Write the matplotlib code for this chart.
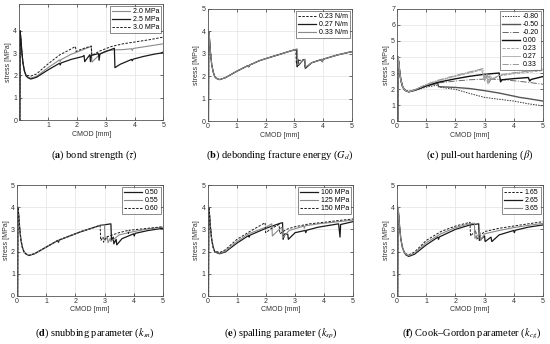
import matplotlib
matplotlib.use("Agg")
import matplotlib.pyplot as plt
import numpy as np

plt.rcParams["font.family"] = ["Liberation Sans", "DejaVu Sans"]
plt.rcParams["mathtext.fontset"] = "stix"

# shared softening branch (0 -> peak 4 MPa -> near minimum)
SOFT_X = [0.0, 0.02, 0.03, 0.06, 0.09, 0.13, 0.18, 0.24]
SOFT_Y = [0.0, 0.0, 4.0, 3.6, 3.05, 2.55, 2.2, 1.98]

# (a) bond strength
A_LABELS = ["2.0 MPa", "2.5 MPa", "3.0 MPa"]
A20_X = [0.3, 0.4, 0.6, 1.0, 1.4, 1.42, 1.45, 1.8, 2.2, 2.45, 2.5, 2.52, 2.8, 3.0, 3.3, 3.6, 3.9, 3.92, 3.95, 4.5, 5.0]
A20_Y = [1.93, 1.88, 1.96, 2.35, 2.7, 2.62, 2.71, 2.95, 3.15, 3.28, 3.3, 2.6, 2.95, 3.1, 3.15, 3.16, 3.2, 3.12, 3.21, 3.32, 3.42]
A25_X = [0.3, 0.4, 0.6, 1.0, 1.4, 1.42, 1.45, 1.8, 2.2, 2.25, 2.27, 2.45, 2.47, 2.5, 2.75, 2.77, 2.8, 3.0, 3.3, 3.32, 3.5, 3.9, 3.92, 3.95, 4.3, 4.7, 4.9, 5.0]
A25_Y = [1.9, 1.84, 1.92, 2.25, 2.55, 2.47, 2.56, 2.72, 2.85, 2.9, 2.62, 2.93, 2.62, 2.9, 2.98, 2.68, 2.97, 3.07, 3.22, 2.35, 2.5, 2.72, 2.66, 2.73, 2.85, 2.96, 3.0, 3.05]
A30_X = [0.3, 0.4, 0.6, 1.0, 1.4, 1.7, 1.95, 1.97, 2.2, 2.45, 2.5, 2.52, 2.8, 3.2, 3.6, 4.0, 4.5, 5.0]
A30_Y = [2.0, 1.97, 2.07, 2.52, 2.92, 3.12, 3.3, 3.08, 3.2, 3.3, 3.32, 2.9, 3.1, 3.3, 3.42, 3.5, 3.6, 3.72]

# (b) debonding fracture energy
B_LABELS = ["0.23 N/m", "0.27 N/m", "0.33 N/m"]
B23_X = [0.3, 0.4, 0.6, 1.0, 1.4, 1.42, 1.45, 1.8, 2.3, 2.8, 3.05, 3.07, 3.12, 3.3, 3.35, 3.37, 3.6, 3.95, 3.97, 4.0, 4.5, 5.0]
B23_Y = [1.9, 1.85, 1.93, 2.22, 2.48, 2.42, 2.5, 2.7, 2.9, 3.1, 3.2, 2.55, 2.7, 2.72, 2.75, 2.38, 2.6, 2.75, 2.65, 2.76, 2.95, 3.1]
B27_X = [0.3, 0.4, 0.6, 1.0, 1.4, 1.42, 1.45, 1.8, 2.3, 2.8, 3.08, 3.1, 3.12, 3.14, 3.3, 3.36, 3.38, 3.6, 3.95, 3.97, 4.0, 4.5, 5.0]
B27_Y = [1.9, 1.85, 1.93, 2.22, 2.48, 2.42, 2.5, 2.7, 2.9, 3.1, 3.2, 2.42, 2.75, 2.48, 2.72, 2.75, 2.35, 2.6, 2.75, 2.65, 2.76, 2.95, 3.1]
B33_X = [0.3, 0.4, 0.6, 1.0, 1.4, 1.42, 1.45, 1.8, 2.3, 2.8, 3.1, 3.12, 3.3, 3.36, 3.38, 3.6, 3.95, 3.97, 4.0, 4.5, 5.0]
B33_Y = [1.9, 1.85, 1.93, 2.22, 2.48, 2.42, 2.5, 2.7, 2.9, 3.1, 3.21, 2.5, 2.7, 2.74, 2.4, 2.6, 2.75, 2.65, 2.76, 2.95, 3.1]

# (c) pull-out hardening
C_LABELS = ["-0.80", "-0.50", "-0.20", "0.00", "0.23", "0.27", "0.33"]
CM80_X = [0.3, 0.4, 0.6, 1.0, 1.4, 1.45, 2.0, 2.5, 3.0, 3.5, 4.0, 4.3, 4.5, 5.0]
CM80_Y = [1.9, 1.83, 1.9, 2.12, 2.25, 2.12, 1.98, 1.72, 1.48, 1.36, 1.25, 1.15, 1.08, 0.95]
CM50_X = [0.3, 0.4, 0.6, 1.0, 1.4, 1.42, 2.0, 2.5, 3.0, 3.5, 4.0, 4.2, 4.5, 5.0]
CM50_Y = [1.9, 1.83, 1.92, 2.2, 2.36, 2.15, 2.1, 2.03, 1.9, 1.75, 1.56, 1.48, 1.4, 1.25]
CM20_X = [0.3, 0.4, 0.6, 1.0, 1.4, 2.0, 2.5, 3.0, 3.5, 4.0, 4.5, 5.0]
CM20_Y = [1.9, 1.83, 1.93, 2.22, 2.38, 2.5, 2.58, 2.62, 2.6, 2.52, 2.42, 2.3]
C000_X = [0.3, 0.4, 0.6, 1.0, 1.4, 2.0, 2.5, 3.0, 3.5, 3.55, 3.6, 4.0, 4.5, 4.55, 4.6, 5.0]
C000_Y = [1.9, 1.83, 1.94, 2.2, 2.42, 2.64, 2.8, 2.92, 3.0, 2.45, 2.58, 2.65, 2.72, 2.5, 2.6, 2.78]
C023_X = [0.3, 0.4, 0.6, 1.0, 1.4, 2.0, 2.5, 2.9, 3.0, 3.05, 3.1, 3.15, 3.2, 3.3, 3.5, 4.0, 4.4, 5.0]
C023_Y = [1.9, 1.83, 1.95, 2.25, 2.5, 2.78, 3.0, 3.2, 2.5, 2.9, 2.35, 2.8, 2.5, 2.7, 2.82, 2.95, 3.02, 3.15]
C027_X = [0.3, 0.4, 0.6, 1.0, 1.4, 2.0, 2.5, 2.9, 3.0, 3.08, 3.12, 3.18, 3.25, 3.5, 4.0, 4.5, 5.0]
C027_Y = [1.9, 1.83, 1.95, 2.27, 2.52, 2.82, 3.05, 3.25, 2.6, 2.95, 2.3, 2.85, 2.62, 2.85, 3.0, 3.1, 3.2]
C033_X = [0.3, 0.4, 0.6, 1.0, 1.4, 2.0, 2.5, 2.95, 3.02, 3.1, 3.16, 3.22, 3.3, 3.5, 4.0, 4.5, 5.0]
C033_Y = [1.9, 1.83, 1.96, 2.3, 2.55, 2.85, 3.08, 3.28, 2.55, 2.9, 2.4, 2.78, 2.6, 2.88, 3.02, 3.12, 3.25]

# (d) snubbing parameter
D_LABELS = ["0.50", "0.55", "0.60"]
D50_X = [0.3, 0.4, 0.6, 1.0, 1.4, 1.42, 1.45, 1.8, 2.2, 2.6, 2.85, 3.22, 3.24, 3.3, 3.32, 3.4, 3.42, 3.6, 4.0, 4.02, 4.05, 4.5, 5.0]
D50_Y = [1.9, 1.82, 1.9, 2.2, 2.5, 2.42, 2.52, 2.7, 2.9, 3.07, 3.18, 3.25, 2.5, 2.65, 2.35, 2.55, 2.3, 2.58, 2.8, 2.7, 2.82, 2.95, 3.05]
D55_X = [0.3, 0.4, 0.6, 1.0, 1.4, 1.8, 2.2, 2.6, 2.85, 3.0, 3.02, 3.1, 3.12, 3.2, 3.22, 3.5, 4.0, 4.5, 5.0]
D55_Y = [1.9, 1.82, 1.9, 2.2, 2.5, 2.7, 2.9, 3.07, 3.18, 3.2, 2.5, 2.65, 2.4, 2.6, 2.45, 2.75, 2.9, 3.02, 3.1]
D60_X = [0.3, 0.4, 0.6, 1.0, 1.4, 1.8, 2.2, 2.6, 2.85, 2.87, 2.95, 2.97, 3.05, 3.5, 3.8, 3.82, 3.85, 4.5, 5.0]
D60_Y = [1.9, 1.82, 1.9, 2.2, 2.5, 2.7, 2.9, 3.07, 3.18, 2.5, 2.65, 2.42, 2.65, 2.85, 2.95, 2.82, 2.96, 3.05, 3.12]

# (e) spalling parameter
E_LABELS = ["100 MPa", "125 MPa", "150 MPa"]
E100_X = [0.3, 0.4, 0.6, 1.0, 1.4, 1.42, 1.45, 2.0, 2.5, 2.57, 2.59, 2.65, 2.75, 2.77, 3.0, 3.35, 3.37, 3.4, 3.8, 4.5, 4.55, 4.57, 5.0]
E100_Y = [1.95, 1.9, 1.98, 2.38, 2.72, 2.65, 2.74, 3.05, 3.28, 3.3, 2.55, 2.8, 2.78, 2.55, 2.85, 2.95, 2.85, 2.96, 3.1, 3.25, 2.65, 3.22, 3.35]
E125_X = [0.3, 0.4, 0.6, 1.0, 1.4, 2.0, 2.2, 2.22, 2.45, 2.55, 2.57, 2.8, 3.3, 3.32, 3.35, 3.8, 4.3, 5.0]
E125_Y = [1.98, 1.92, 2.02, 2.45, 2.8, 3.1, 3.25, 2.7, 3.0, 3.1, 2.62, 2.95, 3.15, 3.05, 3.16, 3.25, 3.32, 3.42]
E150_X = [0.3, 0.4, 0.6, 1.0, 1.5, 1.97, 1.99, 2.2, 2.45, 2.48, 2.7, 3.0, 3.5, 4.0, 4.5, 5.0]
E150_Y = [2.0, 1.95, 2.08, 2.55, 2.95, 3.3, 2.85, 3.05, 3.22, 2.8, 3.0, 3.12, 3.25, 3.32, 3.4, 3.47]

# (f) Cook-Gordon parameter
F_LABELS = ["1.65", "2.65", "3.65"]
F165_X = [0.3, 0.4, 0.6, 1.0, 1.5, 2.0, 2.5, 2.52, 2.7, 2.72, 3.0, 3.5, 4.0, 4.5, 5.0]
F165_Y = [1.9, 1.85, 1.98, 2.5, 2.9, 3.15, 3.32, 2.7, 2.95, 2.55, 2.9, 3.05, 3.15, 3.25, 3.35]
F265_X = [0.3, 0.4, 0.6, 1.0, 1.4, 1.42, 1.45, 2.0, 2.5, 2.8, 2.82, 3.0, 3.02, 3.22, 3.25, 3.5, 4.0, 4.02, 4.05, 4.5, 5.0]
F265_Y = [1.85, 1.78, 1.88, 2.3, 2.65, 2.55, 2.66, 3.0, 3.2, 3.25, 2.5, 2.7, 2.45, 2.65, 2.45, 2.75, 2.95, 2.85, 2.96, 3.1, 3.2]
F365_X = [0.3, 0.4, 0.6, 1.0, 1.5, 2.0, 2.5, 2.65, 2.67, 2.85, 2.87, 3.0, 3.5, 4.0, 4.5, 5.0]
F365_Y = [1.88, 1.82, 1.93, 2.4, 2.8, 3.08, 3.26, 3.28, 2.6, 2.85, 2.5, 2.8, 2.95, 3.08, 3.18, 3.27]

BLACK = dict(color="#1a1a1a", lw=0.9, ls="-")
GRAY = dict(color="#8a8a8a", lw=0.8, ls="-")
DASH = dict(color="#1a1a1a", lw=0.7, ls=(0, (2.5, 1.5)))

panels = [
    dict(rect=[0.035, 0.651, 0.262, 0.337], ylim=5.2, yticks=range(5),
         cap=r"($\mathbf{a}$) bond strength ($\tau$)", capx=0.172, capy=0.549,
         series=[(A20_X, A20_Y, A_LABELS[0], GRAY), (A25_X, A25_Y, A_LABELS[1], BLACK),
                 (A30_X, A30_Y, A_LABELS[2], DASH)]),
    dict(rect=[0.378, 0.648, 0.262, 0.326], ylim=5, yticks=range(6),
         cap=r"($\mathbf{b}$) debonding fracture energy ($G_d$)", capx=0.509, capy=0.549,
         series=[(B23_X, B23_Y, B_LABELS[0], DASH), (B27_X, B27_Y, B_LABELS[1], BLACK),
                 (B33_X, B33_Y, B_LABELS[2], GRAY)]),
    dict(rect=[0.722, 0.648, 0.265, 0.326], ylim=7, yticks=range(8),
         cap=r"($\mathbf{c}$) pull-out hardening ($\beta$)", capx=0.872, capy=0.549,
         series=[(CM80_X, CM80_Y, C_LABELS[0], dict(color="#333333", lw=0.7, ls=(0, (1.5, 1.2)))),
                 (CM50_X, CM50_Y, C_LABELS[1], dict(color="#555555", lw=1.0, ls="-")),
                 (CM20_X, CM20_Y, C_LABELS[2], dict(color="#666666", lw=0.7, ls="-.")),
                 (C000_X, C000_Y, C_LABELS[3], dict(color="#111111", lw=1.0, ls="-")),
                 (C023_X, C023_Y, C_LABELS[4], dict(color="#999999", lw=0.6, ls="--")),
                 (C027_X, C027_Y, C_LABELS[5], dict(color="#aaaaaa", lw=0.6, ls="-")),
                 (C033_X, C033_Y, C_LABELS[6], dict(color="#999999", lw=0.7, ls="-."))]),
    dict(rect=[0.031, 0.140, 0.265, 0.322], ylim=5, yticks=range(6),
         cap=r"($\mathbf{d}$) snubbing parameter ($k_{sn}$)", capx=0.172, capy=0.032,
         series=[(D50_X, D50_Y, D_LABELS[0], BLACK), (D55_X, D55_Y, D_LABELS[1], GRAY),
                 (D60_X, D60_Y, D_LABELS[2], DASH)]),
    dict(rect=[0.378, 0.140, 0.264, 0.322], ylim=5, yticks=range(6),
         cap=r"($\mathbf{e}$) spalling parameter ($k_{sp}$)", capx=0.511, capy=0.032,
         series=[(E100_X, E100_Y, E_LABELS[0], BLACK), (E125_X, E125_Y, E_LABELS[1], GRAY),
                 (E150_X, E150_Y, E_LABELS[2], DASH)]),
    dict(rect=[0.722, 0.140, 0.265, 0.322], ylim=5, yticks=range(6),
         cap=r"($\mathbf{f}$) Cook–Gordon parameter ($k_{cg}$)", capx=0.857, capy=0.032,
         series=[(F165_X, F165_Y, F_LABELS[0], DASH), (F265_X, F265_Y, F_LABELS[1], BLACK),
                 (F365_X, F365_Y, F_LABELS[2], GRAY)]),
]

fig = plt.figure(figsize=(5.5, 3.44), dpi=100)
for p in panels:
    ax = fig.add_axes(p["rect"])
    for xs, ys, lab, st in p["series"]:
        ax.plot(SOFT_X + xs, SOFT_Y + ys, label=lab, **st)
    ax.set_xlim(0, 5)
    ax.set_ylim(0, p["ylim"])
    ax.set_xticks(range(6))
    ax.set_xticklabels(["", "1", "2", "3", "4", "5"] if p["ylim"] == 5.2 else ["0", "1", "2", "3", "4", "5"])
    ax.set_yticks(list(p["yticks"]))
    ax.grid(True, color="#e3e3e3", lw=0.5)
    ax.set_axisbelow(True)
    ax.tick_params(direction="in", length=2, width=0.5, labelsize=5, colors="#333333", pad=1.5,
                   top=True, right=True)
    for s in ax.spines.values():
        s.set_color("#555555")
        s.set_linewidth(0.6)
    ax.set_xlabel("CMOD [mm]", fontsize=5, color="#333333", labelpad=1)
    ax.set_ylabel("stress [MPa]", fontsize=5, color="#333333", labelpad=1)
    leg = ax.legend(loc="upper right", fontsize=5, frameon=True, fancybox=False, handlelength=2.6,
                    labelspacing=0.15, borderpad=0.3, borderaxespad=0.3, handletextpad=0.4)
    leg.get_frame().set_edgecolor("#333333")
    leg.get_frame().set_linewidth(0.5)
    fig.text(p["capx"], p["capy"], p["cap"], ha="center", va="center", fontsize=7.5,
             family="Liberation Serif")

fig.savefig("out.png", dpi=100)
